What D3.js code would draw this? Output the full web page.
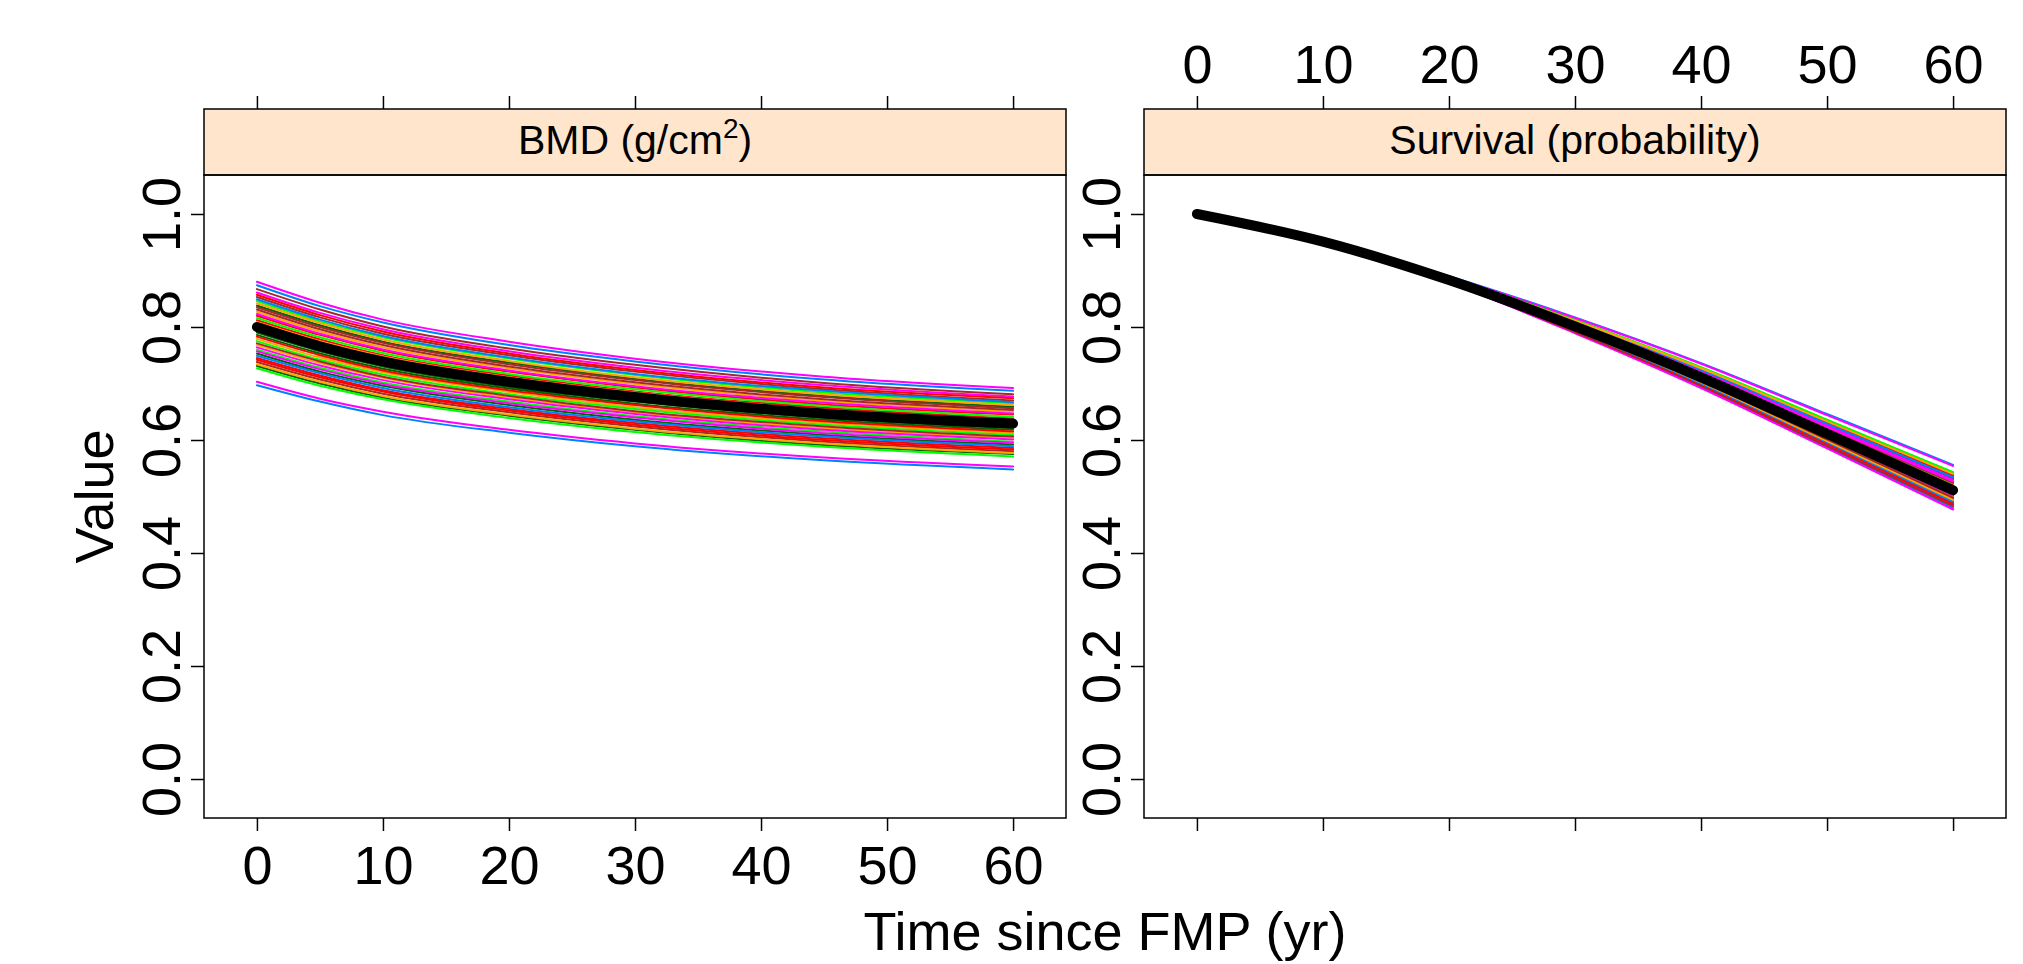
<!DOCTYPE html>
<html><head><meta charset="utf-8">
<script src="https://cdn.jsdelivr.net/npm/d3@7"></script>
<style>html,body{margin:0;padding:0;background:#fff}</style>
</head><body><svg id="chart" width="2023" height="964"></svg>
<script>
// ---------------- data ----------------
const bmdTimes  = [0, 5, 10, 20, 30, 45, 60];
const survTimes = [0, 10, 20, 30, 40, 50, 60];
const lineColors = ["#0080ff", "#ff00ff", "#006400", "#ff0000", "#ffa500", "#00ff00", "#a52a2a"];
const bmdMean  = [0.800, 0.766, 0.739, 0.703, 0.676, 0.647, 0.629];
const survMean = [1.000, 0.951, 0.883, 0.801, 0.711, 0.611, 0.511];
const bmdLines = [
 [.697,.668,.644,.613,.589,.564,.548],[.703,.673,.650,.618,.594,.569,.553],
 [.790,.757,.730,.694,.668,.639,.621],[.745,.714,.688,.655,.630,.603,.586],
 [.827,.792,.764,.727,.699,.669,.650],[.760,.728,.702,.668,.642,.615,.597],
 [.853,.817,.788,.750,.721,.690,.670],[.874,.837,.808,.768,.739,.707,.687],
 [.880,.843,.813,.774,.744,.712,.692],[.731,.700,.675,.643,.618,.591,.575],
 [.812,.778,.750,.714,.686,.657,.638],[.768,.736,.710,.675,.649,.621,.604],
 [.846,.810,.782,.744,.715,.684,.665],[.738,.707,.682,.649,.624,.597,.580],
 [.801,.767,.740,.704,.677,.648,.630],[.861,.825,.796,.757,.728,.697,.677],
 [.753,.721,.696,.662,.636,.609,.592],[.820,.786,.758,.721,.693,.663,.645],
 [.779,.746,.720,.685,.658,.630,.612],[.727,.696,.672,.639,.614,.588,.571],
 [.867,.831,.801,.762,.733,.701,.681],[.794,.761,.734,.698,.671,.642,.624],
 [.757,.725,.699,.665,.640,.612,.595],[.838,.803,.774,.737,.708,.678,.659],
 [.742,.711,.686,.652,.627,.600,.583],[.809,.775,.748,.711,.684,.654,.636],
 [.775,.742,.716,.681,.655,.627,.609],[.835,.800,.772,.734,.706,.676,.656],
 [.749,.718,.692,.658,.633,.606,.589],[.823,.788,.760,.723,.695,.666,.647],
 [.786,.753,.726,.691,.664,.636,.618],[.857,.821,.792,.753,.724,.693,.674],
 [.734,.703,.678,.645,.620,.594,.577],[.816,.782,.754,.717,.690,.660,.641],
 [.771,.739,.712,.678,.651,.624,.606],[.849,.813,.784,.746,.717,.687,.667],
 [.764,.732,.706,.672,.646,.618,.601],[.805,.771,.744,.708,.680,.651,.633],
 [.783,.750,.723,.688,.662,.633,.615],[.842,.807,.778,.740,.711,.681,.662],
 [.797,.764,.736,.701,.673,.645,.626],[.831,.796,.768,.730,.702,.672,.653]
];
const survLines = [
 [1,.953,.890,.817,.736,.646,.556],[1,.953,.889,.816,.735,.644,.554],
 [1,.951,.884,.803,.714,.615,.516],[1,.952,.887,.810,.725,.630,.536],
 [1,.950,.881,.797,.705,.603,.500],[1,.952,.886,.807,.721,.625,.529],
 [1,.950,.880,.793,.699,.594,.489],[1,.949,.878,.790,.694,.587,.480],
 [1,.949,.878,.789,.692,.585,.477],[1,.953,.888,.812,.728,.635,.542],
 [1,.951,.882,.800,.709,.608,.507],[1,.952,.885,.806,.719,.623,.526],
 [1,.950,.880,.794,.701,.596,.492],[1,.952,.887,.811,.726,.633,.539],
 [1,.951,.883,.801,.711,.611,.511],[1,.950,.879,.792,.697,.591,.485],
 [1,.952,.886,.808,.723,.627,.532],[1,.951,.882,.798,.707,.605,.503],
 [1,.952,.885,.805,.717,.619,.521],[1,.953,.888,.812,.729,.636,.543],
 [1,.950,.879,.791,.696,.589,.483],[1,.951,.883,.802,.713,.613,.514],
 [1,.952,.886,.808,.721,.626,.530],[1,.950,.881,.795,.702,.599,.495],
 [1,.952,.887,.810,.725,.631,.537],[1,.951,.883,.800,.709,.609,.508],
 [1,.952,.885,.805,.718,.620,.523],[1,.950,.881,.796,.703,.600,.497],
 [1,.952,.886,.809,.724,.629,.534],[1,.951,.882,.798,.706,.604,.502],
 [1,.951,.884,.803,.715,.616,.518],[1,.950,.879,.793,.698,.593,.487],
 [1,.952,.887,.811,.727,.633,.540],[1,.951,.882,.799,.708,.606,.505],
 [1,.952,.885,.806,.718,.621,.524],[1,.950,.880,.794,.700,.596,.491],
 [1,.952,.885,.807,.720,.623,.527],[1,.951,.883,.801,.710,.610,.510],
 [1,.951,.884,.804,.715,.617,.519],[1,.950,.880,.795,.702,.598,.494],
 [1,.951,.883,.802,.712,.613,.513],[1,.950,.881,.796,.704,.601,.498]
];
const xTicks = [0, 10, 20, 30, 40, 50, 60];
const yTicks = [0, 0.2, 0.4, 0.6, 0.8, 1.0];
const yTickLabels = ["0.0", "0.2", "0.4", "0.6", "0.8", "1.0"];
const xTitle = "Time since FMP (yr)";
const yTitle = "Value";

// ---------------- layout ----------------
const FONT = "'Liberation Sans', Arial, Helvetica, sans-serif";
const svg = d3.select("#chart");
const stripTop = 109, stripBot = 175, panelBot = 818;
const panels = [
  {x0: 204, x1: 1066, times: bmdTimes, lines: bmdLines, mean: bmdMean, labelsBottom: true},
  {x0: 1144, x1: 2006, times: survTimes, lines: survLines, mean: survMean, labelsBottom: false}
];
const y = d3.scaleLinear().domain([-0.069, 1.069]).range([panelBot, stripBot]);

panels.forEach((p, pi) => {
  const x = d3.scaleLinear().domain([-4.2, 64.2]).range([p.x0, p.x1]);
  const g = svg.append("g");
  const line = d3.line().x((d, i) => x(p.times[i])).y(d => y(d)).curve(d3.curveMonotoneX);

  // colored lines
  g.append("g").selectAll("path").data(p.lines).join("path")
    .attr("d", line).attr("fill", "none")
    .attr("stroke", (d, i) => lineColors[i % lineColors.length])
    .attr("stroke-width", 2).attr("stroke-linecap", "round").attr("stroke-linejoin", "round");
  // mean line
  g.append("path").datum(p.mean).attr("d", line).attr("fill", "none")
    .attr("stroke", "#000").attr("stroke-width", 10)
    .attr("stroke-linecap", "round").attr("stroke-linejoin", "round");

  // strip
  g.append("rect").attr("x", p.x0).attr("y", stripTop).attr("width", p.x1 - p.x0)
    .attr("height", stripBot - stripTop).attr("fill", "#ffe5cc")
    .attr("stroke", "#000").attr("stroke-width", 1.5);
  // panel box
  g.append("rect").attr("x", p.x0).attr("y", stripBot).attr("width", p.x1 - p.x0)
    .attr("height", panelBot - stripBot).attr("fill", "none")
    .attr("stroke", "#000").attr("stroke-width", 1.5);

  // strip title
  const cx = (p.x0 + p.x1) / 2;
  const st = g.append("text").attr("x", cx).attr("y", 154).attr("text-anchor", "middle")
    .attr("font-family", FONT).attr("font-size", 41).attr("fill", "#000");
  if (pi === 0) {
    st.append("tspan").text("BMD (g/cm");
    st.append("tspan").attr("font-size", 28).attr("dy", -16).text("2");
    st.append("tspan").attr("dy", 16).text(")");
  } else {
    st.text("Survival (probability)");
  }

  const styleAxis = (ag, showLabels) => {
    ag.select(".domain").remove();
    ag.selectAll(".tick line").attr("stroke", "#000").attr("stroke-width", 1.5);
    ag.selectAll("text").attr("font-family", FONT).attr("font-size", 54).attr("fill", "#000");
    if (!showLabels) ag.selectAll("text").remove();
  };

  // bottom axis
  const bot = g.append("g").attr("transform", `translate(0,${panelBot})`)
    .call(d3.axisBottom(x).tickValues(xTicks).tickSize(13).tickPadding(15).tickFormat(d3.format("d")));
  styleAxis(bot, p.labelsBottom);
  // top axis
  const top = g.append("g").attr("transform", `translate(0,${stripTop})`)
    .call(d3.axisTop(x).tickValues(xTicks).tickSize(13).tickPadding(13).tickFormat(d3.format("d")));
  styleAxis(top, !p.labelsBottom);
  // left axis
  const left = g.append("g").attr("transform", `translate(${p.x0},0)`)
    .call(d3.axisLeft(y).tickValues(yTicks).tickSize(13).tickFormat((d, i) => yTickLabels[i]));
  styleAxis(left, true);
  left.selectAll("text").attr("x", null).attr("dy", null)
    .attr("transform", "rotate(-90)").attr("x", 0).attr("y", -24)
    .attr("text-anchor", "middle");
});

// axis titles
svg.append("text").attr("x", 1105).attr("y", 950).attr("text-anchor", "middle")
  .attr("font-family", FONT).attr("font-size", 54).text(xTitle);
svg.append("text").attr("transform", `translate(113,${(stripBot + panelBot) / 2}) rotate(-90)`)
  .attr("text-anchor", "middle").attr("font-family", FONT).attr("font-size", 54).text(yTitle);
</script>
</body></html>
